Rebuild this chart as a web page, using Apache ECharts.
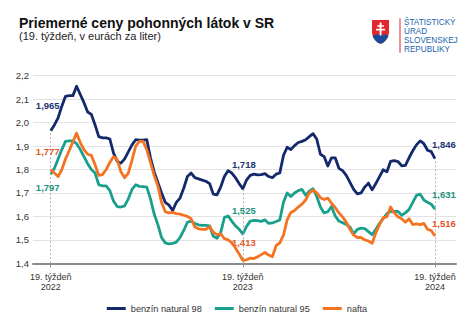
<!DOCTYPE html>
<html>
<head>
<meta charset="utf-8">
<script src="https://cdn.jsdelivr.net/npm/echarts@6/dist/echarts.min.js"></script>
<style>
html,body{margin:0;padding:0;background:#fff;}
#chart{width:474px;height:330px;}
</style>
</head>
<body>
<div id="chart"></div>
<script>
// ---- data ----
var seriesNames = ['benzín natural 98', 'benzín natural 95', 'nafta'];
var tickWeeks = [0, 52, 104];
var tickLabels = ['19. týždeň\n2022', '19. týždeň\n2023', '19. týždeň\n2024'];
var yTicks = ['1,4','1,5','1,6','1,7','1,8','1,9','2,0','2,1','2,2'];

var natural98 = [
1.965, 1.99, 2.02, 2.07, 2.112, 2.115, 2.115, 2.155, 2.12, 2.085,
2.045, 2.035, 1.99, 1.94, 1.935, 1.935, 1.93, 1.87, 1.835, 1.827,
1.845, 1.875, 1.905, 1.927, 1.925, 1.925, 1.927, 1.85, 1.79, 1.745,
1.70, 1.66, 1.648, 1.625, 1.66, 1.678, 1.72, 1.77, 1.785, 1.765,
1.76, 1.755, 1.75, 1.74, 1.695, 1.692, 1.725, 1.77, 1.795, 1.785,
1.765, 1.74, 1.718, 1.755, 1.775, 1.78, 1.777, 1.778, 1.782, 1.77,
1.765, 1.78, 1.785, 1.86, 1.895, 1.885, 1.902, 1.915, 1.92, 1.927,
1.94, 1.953, 1.93, 1.865, 1.855, 1.815, 1.85, 1.85, 1.805, 1.795,
1.775, 1.745, 1.715, 1.696, 1.70, 1.725, 1.742, 1.713, 1.74, 1.77,
1.799, 1.79, 1.835, 1.838, 1.834, 1.816, 1.818, 1.85, 1.88, 1.905,
1.922, 1.91, 1.882, 1.876, 1.846
];
var natural95 = [
1.78, 1.805, 1.845, 1.885, 1.92, 1.922, 1.922, 1.91, 1.885, 1.855,
1.825, 1.80, 1.785, 1.735, 1.73, 1.73, 1.71, 1.665, 1.642, 1.64,
1.645, 1.675, 1.715, 1.735, 1.728, 1.727, 1.725, 1.675, 1.61, 1.565,
1.51, 1.487, 1.483, 1.485, 1.49, 1.51, 1.54, 1.575, 1.58, 1.57,
1.564, 1.562, 1.562, 1.56, 1.515, 1.507, 1.53, 1.595, 1.602, 1.58,
1.56, 1.545, 1.525, 1.557, 1.58, 1.583, 1.582, 1.579, 1.585, 1.57,
1.572, 1.578, 1.585, 1.66, 1.70, 1.685, 1.70, 1.71, 1.715, 1.69,
1.708, 1.718, 1.685, 1.64, 1.615, 1.62, 1.642, 1.602, 1.58, 1.573,
1.565, 1.555, 1.525, 1.545, 1.55, 1.548, 1.535, 1.522, 1.545, 1.57,
1.59, 1.612, 1.621, 1.621, 1.621, 1.605, 1.615, 1.63, 1.66, 1.69,
1.695, 1.67, 1.66, 1.652, 1.631
];
var nafta = [
1.80, 1.785, 1.77, 1.80, 1.845, 1.88, 1.918, 1.955, 1.915, 1.885,
1.865, 1.86, 1.82, 1.775, 1.778, 1.80, 1.83, 1.855, 1.842, 1.79,
1.765, 1.785, 1.84, 1.90, 1.92, 1.92, 1.885, 1.83, 1.775, 1.73,
1.66, 1.62, 1.615, 1.617, 1.612, 1.61, 1.605, 1.60, 1.59, 1.555,
1.547, 1.545, 1.545, 1.556, 1.533, 1.522, 1.525, 1.505, 1.50, 1.488,
1.465, 1.44, 1.413, 1.415, 1.422, 1.42, 1.428, 1.437, 1.446, 1.435,
1.428, 1.475, 1.487, 1.52, 1.585, 1.617, 1.625, 1.64, 1.652, 1.67,
1.70, 1.712, 1.70, 1.68, 1.672, 1.678, 1.656, 1.638, 1.615, 1.598,
1.575, 1.545, 1.52, 1.51, 1.51, 1.50, 1.495, 1.485, 1.53, 1.565,
1.595, 1.598, 1.64, 1.615, 1.598, 1.59, 1.575, 1.59, 1.565, 1.568,
1.565, 1.57, 1.545, 1.54, 1.516
];
var labels98 = ['1,965', '1,718', '1,846'];
var labels95 = ['1,797', '1,525', '1,631'];
var labelsNafta = ['1,777', '1,413', '1,516'];

// ---- styling ----
var colors = ['#13296b', '#19a08d', '#f47321'];
var labelColors = ['#1d3677', '#1d947f', '#e2572c'];
var labelOffsets = [
  [[-3, -25], [1, -24], [9, -14]],
  [[-3, 13], [1, -23], [9, -15]],
  [[-3, -18], [1, -18], [9, -13]]
];
var allData = [natural98, natural95, nafta];
var allLabels = [labels98, labels95, labelsNafta];
var FONT = 'Liberation Sans, Arial, sans-serif';

function pairs(arr) { return arr.map(function (v, i) { return [i, v]; }); }

var series = allData.map(function (arr, s) {
  return {
    name: seriesNames[s],
    type: 'line',
    data: pairs(arr),
    showSymbol: false,
    symbol: 'none',
    z: 3 + s,
    lineStyle: { color: colors[s], width: 2.8, join: 'round' },
    itemStyle: { color: colors[s] },
    emphasis: { disabled: true },
    markPoint: {
      symbol: 'circle',
      symbolSize: 1,
      itemStyle: { color: 'rgba(0,0,0,0)' },
      silent: true,
      data: tickWeeks.map(function (w, k) {
        return {
          coord: [w, arr[w]],
          label: {
            show: true,
            position: 'inside',
            formatter: allLabels[s][k],
            offset: labelOffsets[s][k],
            color: labelColors[s],
            fontWeight: 'bold',
            fontSize: 9.5,
            fontFamily: FONT
          }
        };
      })
    }
  };
});

// vertical dotted guides from axis to highest value at each labelled week
series.push({
  name: 'guides',
  type: 'line',
  data: [],
  z: 1,
  markLine: {
    silent: true,
    symbol: ['none', 'none'],
    label: { show: false },
    lineStyle: { color: '#b0b0b0', width: 1, type: [2, 2] },
    data: tickWeeks.map(function (w) {
      var top = Math.max(natural98[w], natural95[w], nafta[w]);
      return [{ coord: [w, 1.4] }, { coord: [w, top] }];
    })
  }
});

var shield = [[372,20],[389,20],[389,33],[388,37],[386,40],[383.5,42.5],[380.5,44],[377.5,42.5],[375,40],[373,37],[372,33]];
var hills = [[372.6,36.5],[374,35],[375.5,34.3],[377,34.6],[378.5,35.5],[379.5,33.5],[380.5,32.5],[381.5,33.5],[382.5,35.5],[384,34.6],[385.5,34.3],[387,35],[388.4,36.5],[386,40],[383.5,42.5],[380.5,43.8],[377.5,42.5],[375,40]];

var chart = echarts.init(document.getElementById('chart'), null, { renderer: 'svg' });
chart.setOption({
  animation: false,
  backgroundColor: '#fff',
  textStyle: { fontFamily: FONT },
  grid: { left: 33, right: 18, top: 75.7, bottom: 66.7, containLabel: false },
  xAxis: {
    type: 'value',
    min: -4.8,
    max: 109.7,
    axisLine: { show: true, onZero: false, lineStyle: { color: '#8a8a8a', width: 2 } },
    axisTick: { show: true, customValues: tickWeeks, length: 4, lineStyle: { color: '#8a8a8a', width: 1 } },
    splitLine: { show: false },
    axisLabel: {
      customValues: tickWeeks,
      formatter: function (v) { return tickLabels[tickWeeks.indexOf(Math.round(v))] || ''; },
      color: '#333',
      fontSize: 9,
      lineHeight: 10.5,
      margin: 8
    }
  },
  yAxis: {
    type: 'value',
    min: 1.4,
    max: 2.2,
    interval: 0.1,
    axisLine: { show: false },
    axisTick: { show: false },
    splitLine: { lineStyle: { color: '#e2e2e2', width: 1 } },
    axisLabel: {
      color: '#333',
      fontSize: 9.5,
      margin: 4,
      formatter: function (v) { return yTicks[Math.round((v - 1.4) * 10)]; }
    }
  },
  legend: {
    data: seriesNames,
    bottom: 12,
    left: 'center',
    icon: 'rect',
    itemWidth: 19,
    itemHeight: 3,
    itemGap: 13,
    selectedMode: false,
    textStyle: { color: '#333', fontSize: 9.2 }
  },
  graphic: [
    { type: 'text', x: 19, y: 16, style: { text: 'Priemerné ceny pohonných látok v SR', fill: '#111', font: 'bold 14px ' + FONT } },
    { type: 'text', x: 19, y: 30.5, style: { text: '(19. týždeň, v eurách za liter)', fill: '#222', font: '11px ' + FONT } },
    { type: 'polygon', shape: { points: shield }, style: { fill: '#e0282e' } },
    { type: 'polygon', shape: { points: hills }, style: { fill: '#1b4c9c' } },
    { type: 'rect', shape: { x: 379.6, y: 22.5, width: 1.9, height: 13 }, style: { fill: '#fff' } },
    { type: 'rect', shape: { x: 377.3, y: 25.2, width: 6.5, height: 1.6 }, style: { fill: '#fff' } },
    { type: 'rect', shape: { x: 376.0, y: 28.8, width: 9.1, height: 1.7 }, style: { fill: '#fff' } },
    { type: 'rect', shape: { x: 399.5, y: 18.3, width: 1, height: 34.5 }, style: { fill: '#e0282e' } },
    { type: 'text', x: 404, y: 18, style: { text: 'ŠTATISTICKÝ', fill: '#2263ad', font: '500 8.2px ' + FONT } },
    { type: 'text', x: 404, y: 27, style: { text: 'ÚRAD', fill: '#2263ad', font: '500 8.2px ' + FONT } },
    { type: 'text', x: 404, y: 36, style: { text: 'SLOVENSKEJ', fill: '#2263ad', font: '500 8.2px ' + FONT } },
    { type: 'text', x: 404, y: 45, style: { text: 'REPUBLIKY', fill: '#2263ad', font: '500 8.2px ' + FONT } }
  ],
  series: series
});
</script>
</body>
</html>
